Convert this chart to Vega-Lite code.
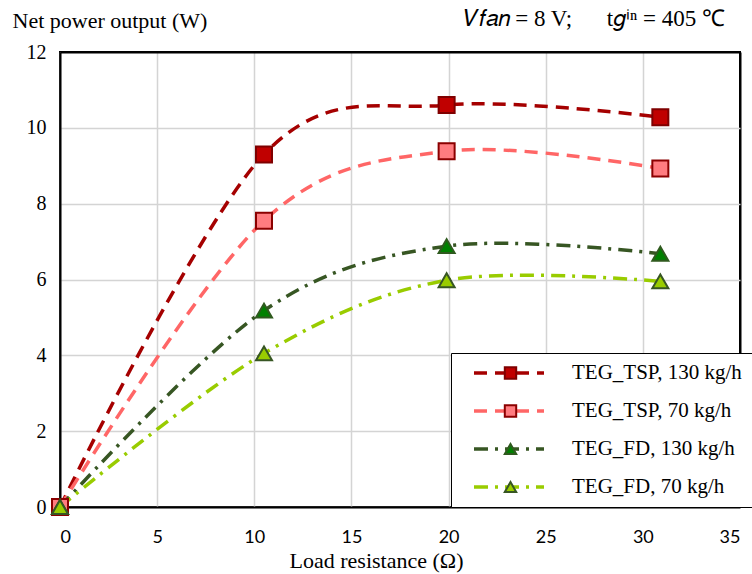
{
  "$schema": "https://vega.github.io/schema/vega-lite/v6.json",
  "width": 680,
  "height": 455,
  "autosize": "none",
  "padding": {"left": 60, "top": 52, "right": 12, "bottom": 67},
  "background": "white",
  "title": {
    "text": "𝑉𝑓𝑎𝑛 = 8 V;\u00a0\u00a0\u00a0\u00a0\u00a0 t𝑔ⁱⁿ = 405 ℃",
    "anchor": "end",
    "frame": "group",
    "dx": -15,
    "offset": -33,
    "baseline": "middle",
    "font": "Liberation Serif",
    "fontSize": 23,
    "fontWeight": "normal",
    "color": "black"
  },
  "config": {
    "view": {"stroke": "black", "strokeWidth": 2},
    "axis": {
      "grid": true,
      "ticks": false,
      "tickSize": 0,
      "domainColor": "black",
      "domainWidth": 2,
      "labelColor": "black",
      "titleColor": "black",
      "titleFont": "Liberation Serif",
      "titleFontSize": 22,
      "titleFontWeight": "normal"
    }
  },
  "data": {
    "values": [
      {"series": "TEG_TSP, 130 kg/h", "k": "a", "R": 0, "P": 0},
      {"series": "TEG_TSP, 130 kg/h", "k": "a", "R": 10.5, "P": 9.3},
      {"series": "TEG_TSP, 130 kg/h", "k": "a", "R": 19.9, "P": 10.6},
      {"series": "TEG_TSP, 130 kg/h", "k": "a", "R": 30.9, "P": 10.28},
      {"series": "TEG_TSP, 70 kg/h", "k": "b", "R": 0, "P": 0},
      {"series": "TEG_TSP, 70 kg/h", "k": "b", "R": 10.5, "P": 7.55},
      {"series": "TEG_TSP, 70 kg/h", "k": "b", "R": 19.9, "P": 9.38},
      {"series": "TEG_TSP, 70 kg/h", "k": "b", "R": 30.9, "P": 8.93},
      {"series": "TEG_FD, 130 kg/h", "k": "c", "R": 0, "P": 0},
      {"series": "TEG_FD, 130 kg/h", "k": "c", "R": 10.5, "P": 5.18},
      {"series": "TEG_FD, 130 kg/h", "k": "c", "R": 19.9, "P": 6.88},
      {"series": "TEG_FD, 130 kg/h", "k": "c", "R": 30.9, "P": 6.68},
      {"series": "TEG_FD, 70 kg/h", "k": "d", "R": 0, "P": 0},
      {"series": "TEG_FD, 70 kg/h", "k": "d", "R": 10.5, "P": 4.05},
      {"series": "TEG_FD, 70 kg/h", "k": "d", "R": 19.9, "P": 5.98},
      {"series": "TEG_FD, 70 kg/h", "k": "d", "R": 30.9, "P": 5.95}
    ]
  },
  "encoding": {
    "x": {
      "field": "R", "type": "quantitative",
      "scale": {"domain": [0, 35], "nice": false, "zero": false},
      "axis": {
        "values": [0, 5, 10, 15, 20, 25, 30, 35],
        "title": "Load resistance (Ω)",
        "gridColor": {"condition": {"test": "datum.value === 35", "value": "black"}, "value": "#d4d4d4"},
        "gridWidth": {"condition": {"test": "datum.value === 35", "value": 2}, "value": 1.5},
        "labelFont": "Lato", "labelFontSize": 18, "labelPadding": 21,
        "titleX": 316, "titleY": 53, "titleBaseline": "middle", "titleAlign": "center"
      }
    },
    "y": {
      "field": "P", "type": "quantitative",
      "scale": {"domain": [0, 12], "nice": false, "zero": false},
      "axis": {
        "values": [0, 2, 4, 6, 8, 10, 12],
        "title": "Net power output (W)",
        "gridColor": {"condition": {"test": "datum.value === 12", "value": "black"}, "value": "#d4d4d4"},
        "gridWidth": {"condition": {"test": "datum.value === 12", "value": 2}, "value": 1.5},
        "labelFont": "Liberation Serif", "labelFontSize": 20, "labelPadding": 14,
        "titleAngle": 0, "titleAlign": "left", "titleBaseline": "middle",
        "titleX": -48, "titleY": -32
      }
    }
  },
  "layer": [
    {
      "mark": {"type": "line", "interpolate": "cardinal", "strokeWidth": 3.5},
      "encoding": {
        "color": {
          "field": "series", "type": "nominal",
          "scale": {
            "domain": ["TEG_TSP, 130 kg/h", "TEG_TSP, 70 kg/h", "TEG_FD, 130 kg/h", "TEG_FD, 70 kg/h"],
            "range": ["#A50000", "#FF6666", "#375623", "#99CC00"]
          },
          "legend": {
            "title": " ", "titleOrient": "right", "titlePadding": 16,
            "orient": "none", "legendX": 391, "legendY": 301,
            "symbolType": "stroke", "symbolSize": 4900, "symbolStrokeWidth": 3.5, "symbolOffset": 20,
            "labelOffset": 26, "labelFont": "Liberation Serif", "labelFontSize": 21, "labelColor": "black", "labelLimit": 400,
            "clipHeight": 38, "rowPadding": 0, "padding": 1,
            "fillColor": "white", "strokeColor": "black", "cornerRadius": 0, "zindex": 1
          }
        },
        "strokeDash": {
          "field": "series", "type": "nominal",
          "scale": {
            "domain": ["TEG_TSP, 130 kg/h", "TEG_TSP, 70 kg/h", "TEG_FD, 130 kg/h", "TEG_FD, 70 kg/h"],
            "range": [[13, 8], [13, 8], [14, 7, 3, 7], [14, 7, 3, 7]]
          },
          "legend": {
            "title": " ", "titleOrient": "right", "titlePadding": 16,
            "orient": "none", "legendX": 391, "legendY": 301,
            "symbolType": "stroke", "symbolSize": 4900, "symbolStrokeWidth": 3.5, "symbolOffset": 20,
            "labelOffset": 26, "labelFont": "Liberation Serif", "labelFontSize": 21, "labelColor": "black", "labelLimit": 400,
            "clipHeight": 38, "rowPadding": 0, "padding": 1,
            "fillColor": "white", "strokeColor": "black", "cornerRadius": 0, "zindex": 1
          }
        }
      }
    },
    {
      "mark": {"type": "point", "filled": true, "opacity": 1, "strokeWidth": 2},
      "encoding": {
        "shape": {
          "field": "k", "type": "nominal",
          "scale": {"range": ["square", "square", "triangle-up", "triangle-up"]},
          "legend": {
            "title": null, "orient": "none", "legendX": 391, "legendY": 301,
            "symbolSize": 130, "symbolStrokeWidth": 2, "symbolOpacity": 1, "symbolOffset": 48,
            "labelOpacity": 0, "labelFontSize": 21, "clipHeight": 38, "rowPadding": 0, "padding": 1, "zindex": 2
          }
        },
        "fill": {
          "field": "k", "type": "nominal",
          "scale": {"range": ["#C00000", "#FF7C80", "#008000", "#99CC00"]},
          "legend": {
            "title": null, "orient": "none", "legendX": 391, "legendY": 301,
            "symbolSize": 130, "symbolStrokeWidth": 2, "symbolOpacity": 1, "symbolOffset": 48,
            "labelOpacity": 0, "labelFontSize": 21, "clipHeight": 38, "rowPadding": 0, "padding": 1, "zindex": 2
          }
        },
        "stroke": {
          "field": "k", "type": "nominal",
          "scale": {"range": ["#7F0000", "#8B0000", "#2F5A1E", "#375623"]},
          "legend": {
            "title": null, "orient": "none", "legendX": 391, "legendY": 301,
            "symbolSize": 130, "symbolStrokeWidth": 2, "symbolOpacity": 1, "symbolOffset": 48,
            "labelOpacity": 0, "labelFontSize": 21, "clipHeight": 38, "rowPadding": 0, "padding": 1, "zindex": 2
          }
        },
        "size": {
          "field": "series", "type": "ordinal",
          "scale": {"range": [256, 256, 170, 170]},
          "legend": null
        }
      }
    }
  ]
}
